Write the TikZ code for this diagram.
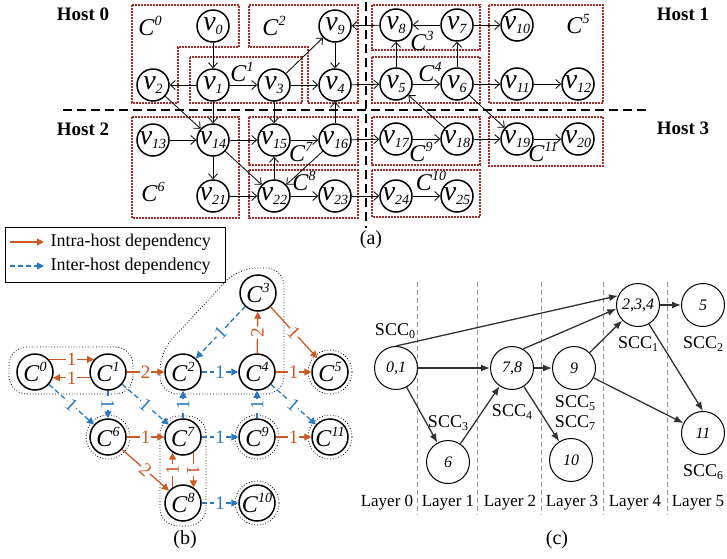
\documentclass[tikz,border=0pt]{standalone}
\usepackage{fontspec}
\setmainfont{Liberation Serif}
\usetikzlibrary{arrows.meta, positioning, calc}
\definecolor{clustercolor}{RGB}{165, 45, 40}
\definecolor{intracolor}{RGB}{205, 90, 35}
\definecolor{intercolor}{RGB}{40, 120, 195}
\definecolor{layercolor}{RGB}{150, 150, 150}
\definecolor{edgecolor}{RGB}{50, 50, 50}

\newcommand{\vtx}[1]{\textit{v}\raisebox{-0.12em}{\fontsize{14}{14}\selectfont\textit{#1}}}
\newcommand{\cls}[1]{\textit{C}\raisebox{0.42em}{\fontsize{14}{14}\selectfont\textit{#1}}}
\newcommand{\scc}[1]{SCC\raisebox{-0.2em}{\fontsize{12}{12}\selectfont #1}}

\begin{document}
\begin{tikzpicture}[
    x=1pt, y=-1pt,
    vnode/.style={circle, draw, line width=1.5pt, minimum size=32pt, inner sep=0pt, fill=white, font=\fontsize{28}{28}\selectfont},
    aarrow/.style={-{Straight Barb[length=5pt,width=9pt]}, line width=0.8pt},
    cbox/.style={draw=clustercolor, line width=1.3pt, dash pattern=on 1.6pt off 1.4pt},
    clabel/.style={font=\fontsize{24}{24}\selectfont},
    hostline/.style={line width=1.6pt, dash pattern=on 9pt off 5pt},
    host/.style={font=\fontsize{19}{19}\selectfont\bfseries},
    cnode/.style={circle, draw, line width=1.5pt, minimum size=36pt, inner sep=0pt, font=\fontsize{24}{24}\selectfont},
    single/.style={draw, dotted, line width=0.8pt},
    grp/.style={draw, dotted, line width=0.8pt, rounded corners=18pt},
    intra/.style={-{Triangle[length=7pt,width=7pt]}, line width=1.3pt, draw=intracolor},
    inter/.style={intra, draw=intercolor, dash pattern=on 5pt off 3pt},
    olab/.style={midway, sloped, fill=white, inner sep=1pt, text=intracolor, font=\fontsize{19}{19}\selectfont},
    blab/.style={olab, text=intercolor},
    snode/.style={circle, draw, line width=1pt, minimum size=43pt, inner sep=0pt, font=\itshape\fontsize{16}{16}\selectfont},
    sarrow/.style={-{Latex[length=9pt,width=7pt]}, line width=1.3pt, draw=edgecolor},
    layer/.style={draw=layercolor, dash pattern=on 5pt off 3pt, line width=0.8pt},
    txt/.style={font=\fontsize{18}{18}\selectfont}
]
\useasboundingbox (0,0) rectangle (727,558);

% (a) clusters
\draw[cbox] (132,5) -- (239,5) -- (239,47) -- (178,47) -- (178,103) -- (132,103) -- cycle;
\draw[cbox] (190,57) rectangle (302,103);
\draw[cbox] (249,5) -- (358,5) -- (358,103) -- (308,103) -- (308,47) -- (249,47) -- cycle;
\draw[cbox] (372,5) rectangle (480,50);
\draw[cbox] (372,57) rectangle (480,103);
\draw[cbox] (489,5) rectangle (603,103);
\draw[cbox] (132,117) rectangle (239,218);
\draw[cbox] (249,117) rectangle (358,165);
\draw[cbox] (249,170) rectangle (358,218);
\draw[cbox] (372,117) rectangle (480,165);
\draw[cbox] (372,170) rectangle (480,217);
\draw[cbox] (489,117) rectangle (603,166);

\node[clabel] (lc0) at (150,26) {\cls{0}};
\node[clabel] (lc1) at (242,72) {\cls{1}};
\node[clabel] (lc2) at (274,26) {\cls{2}};
\node[clabel] (lc3) at (422,41) {\cls{3}};
\node[clabel] (lc4) at (430,72) {\cls{4}};
\node[clabel] (lc5) at (578,24) {\cls{5}};
\node[clabel] (lc6) at (153,192) {\cls{6}};
\node[clabel] (lc7) at (301,152) {\cls{7}};
\node[clabel] (lc8) at (304,181) {\cls{8}};
\node[clabel] (lc9) at (421,152) {\cls{9}};
\node[clabel] (lc10) at (431,181) {\cls{10}};
\node[clabel] (lc11) at (543,152) {\cls{11}};

% Hosts
\draw[hostline] (63,110) -- (650,110);
\draw[hostline] (366,2) -- (366,228);
\node[host] (h0) at (83,14) {Host 0};
\node[host] (h1) at (683,14) {Host 1};
\node[host] (h2) at (83,129) {Host 2};
\node[host] (h3) at (683,128) {Host 3};

% (a) vertices
\node[vnode] (v0) at (213,26) {\vtx{0}};
\node[vnode] (v9) at (335,26) {\vtx{9}};
\node[vnode] (v8) at (396,25) {\vtx{8}};
\node[vnode] (v7) at (457,25) {\vtx{7}};
\node[vnode] (v10) at (517,25) {\vtx{10}};
\node[vnode] (v2) at (153,85) {\vtx{2}};
\node[vnode] (v1) at (213,85) {\vtx{1}};
\node[vnode] (v3) at (274,85) {\vtx{3}};
\node[vnode] (v4) at (335,85) {\vtx{4}};
\node[vnode] (v5) at (396,84) {\vtx{5}};
\node[vnode] (v6) at (457,84) {\vtx{6}};
\node[vnode] (v11) at (517,84) {\vtx{11}};
\node[vnode] (v12) at (578,84) {\vtx{12}};
\node[vnode] (v13) at (153,140) {\vtx{13}};
\node[vnode] (v14) at (213,140) {\vtx{14}};
\node[vnode] (v15) at (274,140) {\vtx{15}};
\node[vnode] (v16) at (335,140) {\vtx{16}};
\node[vnode] (v17) at (396,139) {\vtx{17}};
\node[vnode] (v18) at (457,139) {\vtx{18}};
\node[vnode] (v19) at (517,139) {\vtx{19}};
\node[vnode] (v20) at (578,139) {\vtx{20}};
\node[vnode] (v21) at (213,196) {\vtx{21}};
\node[vnode] (v22) at (274,196) {\vtx{22}};
\node[vnode] (v23) at (335,196) {\vtx{23}};
\node[vnode] (v24) at (396,196) {\vtx{24}};
\node[vnode] (v25) at (457,196) {\vtx{25}};

\draw[aarrow] (v0) -- (v1);
\draw[aarrow] (v1) -- (v2);
\draw[aarrow] (v1) -- (v3);
\draw[aarrow] (v3) -- (v9);
\draw[aarrow] (v3) -- (v4);
\draw[aarrow] (v9) -- (v4);
\draw[aarrow] (v8) -- (v9);
\draw[aarrow] (v4) -- (v5);
\draw[aarrow] (v7) -- (v8);
\draw[aarrow] (v7) -- (v10);
\draw[aarrow] (v5) -- (v8);
\draw[aarrow] (v6) -- (v7);
\draw[aarrow] (v5) -- (v6);
\draw[aarrow] (v6) -- (v11);
\draw[aarrow] (v11) -- (v12);
\draw[aarrow] (v2) -- (v14);
\draw[aarrow] (v1) -- (v14);
\draw[aarrow] (v3) -- (v15);
\draw[aarrow] (v16) -- (v4);
\draw[aarrow] (v18) -- (v5);
\draw[aarrow] (v6) -- (v19);
\draw[aarrow] (v13) -- (v14);
\draw[aarrow] (v14) -- (v15);
\draw[aarrow] (v15) -- (v16);
\draw[aarrow] (v16) -- (v17);
\draw[aarrow] (v17) -- (v18);
\draw[aarrow] (v18) -- (v19);
\draw[aarrow] (v19) -- (v20);
\draw[aarrow] (v14) -- (v21);
\draw[aarrow] (v14) -- (v22);
\draw[aarrow] (v21) -- (v22);
\draw[aarrow] (v22) -- (v15);
\draw[aarrow] (v16) -- (v22);
\draw[aarrow] (v22) -- (v23);
\draw[aarrow] (v23) -- (v24);
\draw[aarrow] (v24) -- (v25);

\node[txt, font=\fontsize{20}{20}\selectfont] (capa) at (371,240) {(a)};

% Legend
\node[draw, line width=0.6pt, minimum width=220pt, minimum height=55pt] (legend) at (115,255) {};
\coordinate (la) at (10,242);
\coordinate (lb) at (44,242);
\coordinate (lc) at (10,266);
\coordinate (ld) at (44,266);
\draw[intra] (la) -- (lb);
\draw[inter] (lc) -- (ld);
\node[txt, anchor=west] (intra) at (47,242) {Intra-host dependency};
\node[txt, anchor=west] (inter) at (47,266) {Inter-host dependency};

% (b) condensed graph
\draw[grp] (9,347) rectangle (133,394);
\draw[grp] (160,394) -- (160,352) -- (238,268) -- (284,268) -- (284,394) -- cycle;
\draw[grp] (160,416) rectangle (206,526);

\node[cnode] (c0) at (35,372) {\cls{0}};
\node[cnode] (c1) at (108,372) {\cls{1}};
\node[cnode] (c2) at (183,372) {\cls{2}};
\node[cnode] (c3) at (258,293) {\cls{3}};
\node[cnode] (c4) at (257,372) {\cls{4}};
\node[cnode] (c5) at (330,372) {\cls{5}};
\node[cnode] (c6) at (108,437) {\cls{6}};
\node[cnode] (c7) at (183,437) {\cls{7}};
\node[cnode] (c9) at (257,437) {\cls{9}};
\node[cnode] (c11) at (330,437) {\cls{11}};
\node[cnode] (c8) at (183,503) {\cls{8}};
\node[cnode] (c10) at (257,503) {\cls{10}};

\draw[single] (c5) circle (22);
\draw[single] (c6) circle (22);
\draw[single] (c9) circle (22);
\draw[single] (c11) circle (22);
\draw[single] (c10) circle (22);

\draw[intra] (c0.42) -- node[olab] {1} (c1.138);
\draw[intra] (c1.198) -- node[olab] {1} (c0.-18);
\draw[intra] (c1) -- node[olab] {2} (c2);
\draw[inter] (c2) -- node[blab] {1} (c4);
\draw[intra] (c4) -- node[olab] {1} (c5);
\draw[intra] (c4) -- node[olab] {2} (c3);
\draw[inter] (c3) -- node[blab] {1} (c2);
\draw[intra] (c3) -- node[olab] {1} (c5);
\draw[inter] (c0) -- node[blab] {1} (c6);
\draw[inter] (c1) -- node[blab] {1} (c6);
\draw[inter] (c1) -- node[blab] {1} (c7);
\draw[inter] (c7) -- node[blab] {1} (c2);
\draw[inter] (c9) -- node[blab] {1} (c4);
\draw[inter] (c4) -- node[blab] {1} (c11);
\draw[intra] (c6) -- node[olab] {1} (c7);
\draw[inter] (c7) -- node[blab] {1} (c9);
\draw[intra] (c9) -- node[olab] {1} (c11);
\draw[intra] (c6) -- node[olab] {2} (c8);
\draw[intra] (c8.124) -- node[olab] {1} (c7.236);
\draw[intra] (c7.-56) -- node[olab] {1} (c8.56);
\draw[inter] (c8) -- node[blab] {1} (c10);

\node[txt, font=\fontsize{20}{20}\selectfont] (capb) at (185,540) {(b)};

% (c) layered DAG
\draw[layer] (417,282) -- (417,515);
\draw[layer] (477,282) -- (477,515);
\draw[layer] (541,282) -- (541,515);
\draw[layer] (603,282) -- (603,515);
\draw[layer] (667,282) -- (667,515);

\node[snode] (n01) at (396,368) {0,1};
\node[snode] (n78) at (512,368) {7,8};
\node[snode] (n9) at (574,368) {9};
\node[snode] (n234) at (638,305) {2,3,4};
\node[snode] (n5) at (703,305) {5};
\node[snode] (n6) at (448,462) {6};
\node[snode] (n10) at (571,460) {10};
\node[snode] (n11) at (703,433) {11};

\draw[sarrow] (n01.north) -- (n234.155);
\draw[sarrow] (n01) -- (n78);
\draw[sarrow] (n01) -- (n6);
\draw[sarrow] (n6) -- (n78);
\draw[sarrow] (n78) -- (n9);
\draw[sarrow] (n78.60) -- (n234.190);
\draw[sarrow] (n78) -- (n10);
\draw[sarrow] (n9) -- (n234);
\draw[sarrow] (n9) -- (n11);
\draw[sarrow] (n234) -- (n5);
\draw[sarrow] (n234.-60) -- (n11.north);

\node[txt] (s0) at (395,331) {\scc{0}};
\node[txt] (s1) at (638,344) {\scc{1}};
\node[txt] (s2) at (703,344) {\scc{2}};
\node[txt] (s3) at (448,423) {\scc{3}};
\node[txt] (s4) at (512,412) {\scc{4}};
\node[txt] (s5) at (575,403) {\scc{5}};
\node[txt] (s7) at (575,423) {\scc{7}};
\node[txt] (s6) at (703,472) {\scc{6}};

\node[txt, font=\fontsize{17}{17}\selectfont] (l0) at (387,503) {Layer 0};
\node[txt, font=\fontsize{17}{17}\selectfont] (l1) at (448,503) {Layer 1};
\node[txt, font=\fontsize{17}{17}\selectfont] (l2) at (510,503) {Layer 2};
\node[txt, font=\fontsize{17}{17}\selectfont] (l3) at (572,503) {Layer 3};
\node[txt, font=\fontsize{17}{17}\selectfont] (l4) at (635,503) {Layer 4};
\node[txt, font=\fontsize{17}{17}\selectfont] (l5) at (698,503) {Layer 5};

\node[txt, font=\fontsize{20}{20}\selectfont] (capc) at (557,540) {(c)};

\end{tikzpicture}
\end{document}
